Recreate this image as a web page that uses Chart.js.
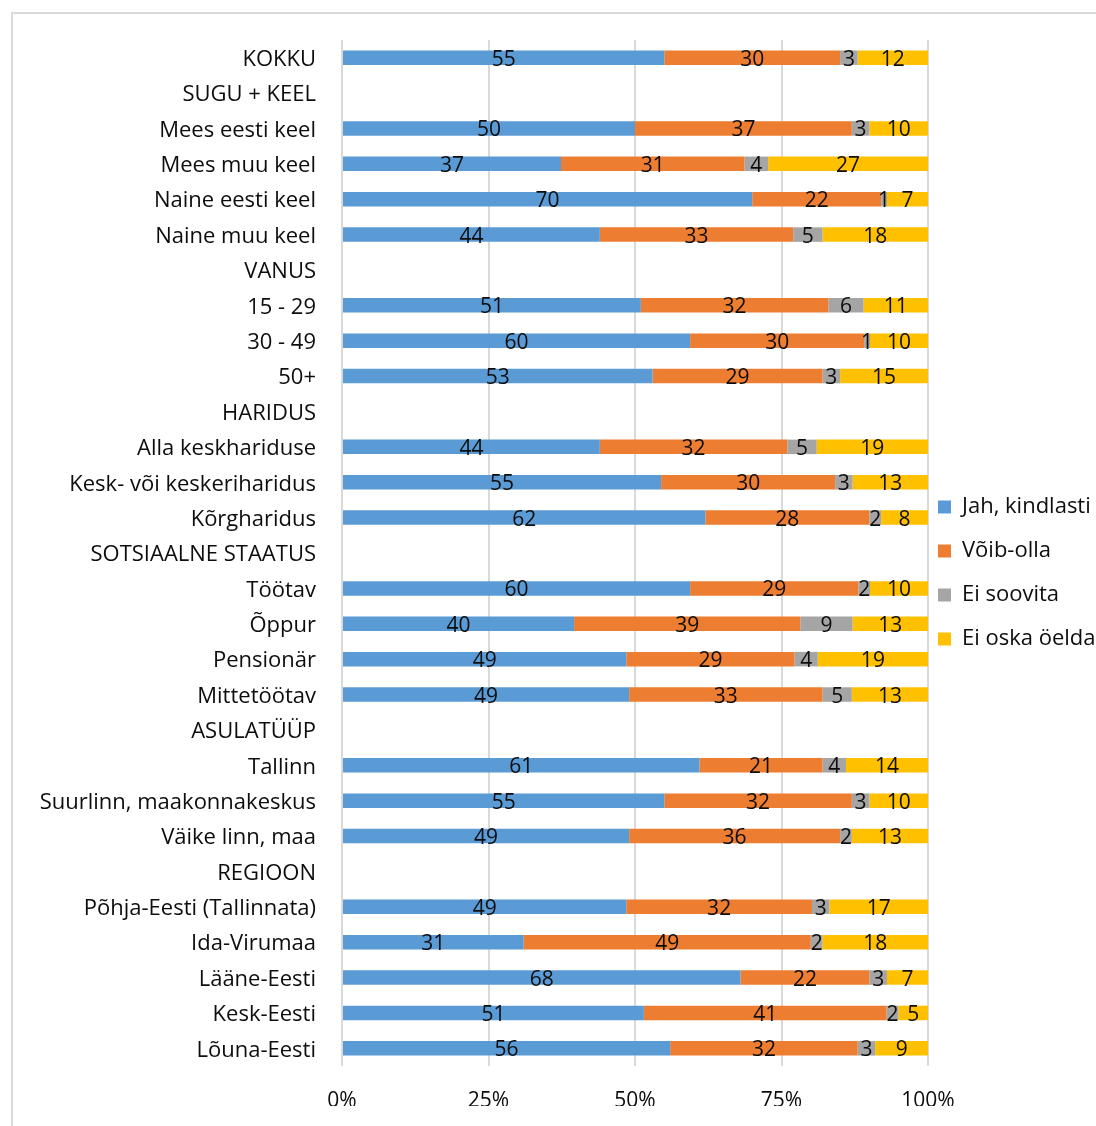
<!DOCTYPE html>
<html>
<head>
<meta charset="utf-8">
<script src="https://cdn.jsdelivr.net/npm/chart.js@4.4.1/dist/chart.umd.min.js"></script>
<style>
  html, body { margin: 0; padding: 0; background: #fff; overflow: hidden; width: 1096px; height: 1126px; }
  #frame { position: absolute; left: 11px; top: 12px; width: 1200px; height: 1200px; border: 2px solid #d9d9d9; box-sizing: border-box; }
  #myBarChart { position: absolute; left: 0; top: 0; }
</style>
</head>
<body>
<div id="frame"></div>
<canvas id="myBarChart" width="1160" height="1126"></canvas>
<script>
// Kategooriad (vahepealkirjadel andmeid pole)
const categories = [
  "KOKKU", "SUGU + KEEL", "Mees eesti keel", "Mees muu keel", "Naine eesti keel", "Naine muu keel",
  "VANUS", "15 - 29", "30 - 49", "50+",
  "HARIDUS", "Alla keskhariduse", "Kesk- või keskeriharidus", "Kõrgharidus",
  "SOTSIAALNE STAATUS", "Töötav", "Õppur", "Pensionär", "Mittetöötav",
  "ASULATÜÜP", "Tallinn", "Suurlinn, maakonnakeskus", "Väike linn, maa",
  "REGIOON", "Põhja-Eesti (Tallinnata)", "Ida-Virumaa", "Lääne-Eesti", "Kesk-Eesti", "Lõuna-Eesti"
];

const seriesNames = ["Jah, kindlasti", "Võib-olla", "Ei soovita", "Ei oska öelda"];

const jahKindlasti = [55, null, 50, 37, 70, 44, null, 51, 60, 53, null, 44, 55, 62, null, 60, 40, 49, 49, null, 61, 55, 49, null, 49, 31, 68, 51, 56];
const voibOlla     = [30, null, 37, 31, 22, 33, null, 32, 30, 29, null, 32, 30, 28, null, 29, 39, 29, 33, null, 21, 32, 36, null, 32, 49, 22, 41, 32];
const eiSoovita    = [3, null, 3, 4, 1, 5, null, 6, 1, 3, null, 5, 3, 2, null, 2, 9, 4, 5, null, 4, 3, 2, null, 3, 2, 3, 2, 3];
const eiOskaOelda  = [12, null, 10, 27, 7, 18, null, 11, 10, 15, null, 19, 13, 8, null, 10, 13, 19, 13, null, 14, 10, 13, null, 17, 18, 7, 5, 9];

const xTicks = [0, 25, 50, 75, 100];

const colors = ["#5B9BD5", "#ED7D31", "#A5A5A5", "#FFC000"];
const FONT = "'Open Sans'";
const TEXT = "#0d0d0d";
const LEGEND_WIDTH = 232; // canvas 1160 - graafiku parem serv 928

// 100% tulpade jaoks normaliseerime iga rea summa järgi
const rawSeries = [jahKindlasti, voibOlla, eiSoovita, eiOskaOelda];
const rowSums = categories.map((c, i) => rawSeries.reduce((s, arr) => s + (arr[i] || 0), 0));
const pctSeries = rawSeries.map(arr => arr.map((v, i) => v == null ? null : v / rowSums[i] * 100));

// Väärtuste kirjutamine tulpade keskele
const valueLabels = {
  id: "valueLabels",
  afterDatasetsDraw(chart) {
    const ctx = chart.ctx;
    ctx.save();
    ctx.font = "21px " + FONT;
    ctx.fillStyle = TEXT;
    ctx.textAlign = "center";
    ctx.textBaseline = "middle";
    chart.data.datasets.forEach((ds, i) => {
      const meta = chart.getDatasetMeta(i);
      meta.data.forEach((bar, j) => {
        const raw = rawSeries[i][j];
        if (raw == null) return;
        const p = bar.getProps(["x", "y", "base"], true);
        ctx.fillText(String(raw), (p.x + p.base) / 2, p.y + 2);
      });
    });
    ctx.restore();
  }
};

// Legendi laius fikseeritud, legend veidi vasakule nagu originaalis
const fixLegend = {
  id: "fixLegend",
  afterInit(chart) {
    const lg = chart.legend;
    if (!lg) return;
    const origFit = lg.fit;
    lg.fit = function () {
      origFit.call(this);
      this.width = LEGEND_WIDTH;
    };
  },
  afterLayout(chart) {
    if (chart.legend) {
      chart.legend.left -= 12;
      chart.legend.right -= 12;
    }
  }
};

const datasets = seriesNames.map((name, i) => ({
  label: name,
  data: pctSeries[i],
  backgroundColor: colors[i],
  borderWidth: 0,
  barPercentage: 0.41,
  categoryPercentage: 1.0
}));

const ctx = document.getElementById("myBarChart").getContext("2d");
const myBarChart = new Chart(ctx, {
  type: "bar",
  data: { labels: categories, datasets: datasets },
  options: {
    indexAxis: "y",
    responsive: false,
    animation: false,
    devicePixelRatio: 1,
    layout: { padding: { left: 12, top: 40, right: 0, bottom: 20 } },
    plugins: {
      legend: {
        position: "right",
        labels: {
          boxWidth: 13,
          boxHeight: 13,
          padding: 22,
          color: TEXT,
          font: { family: FONT, size: 22 }
        }
      },
      tooltip: { enabled: false }
    },
    scales: {
      x: {
        stacked: true,
        min: 0,
        max: 100,
        afterBuildTicks(scale) {
          scale.ticks = xTicks.map(v => ({ value: v }));
        },
        afterFit(scale) { scale.height = 40; },
        ticks: {
          callback: v => v + "%",
          color: TEXT,
          padding: 22,
          maxRotation: 0,
          font: { family: FONT, size: 21 }
        },
        grid: { color: "#d9d9d9", lineWidth: 2, drawTicks: false },
        border: { display: false }
      },
      y: {
        stacked: true,
        afterFit(scale) { scale.width = 330; },
        ticks: {
          color: TEXT,
          padding: 26,
          labelOffset: 2,
          autoSkip: false,
          font: { family: FONT, size: 22 }
        },
        grid: { display: false, drawTicks: false },
        border: { display: false }
      }
    }
  },
  plugins: [valueLabels, fixLegend]
});
</script>
</body>
</html>
